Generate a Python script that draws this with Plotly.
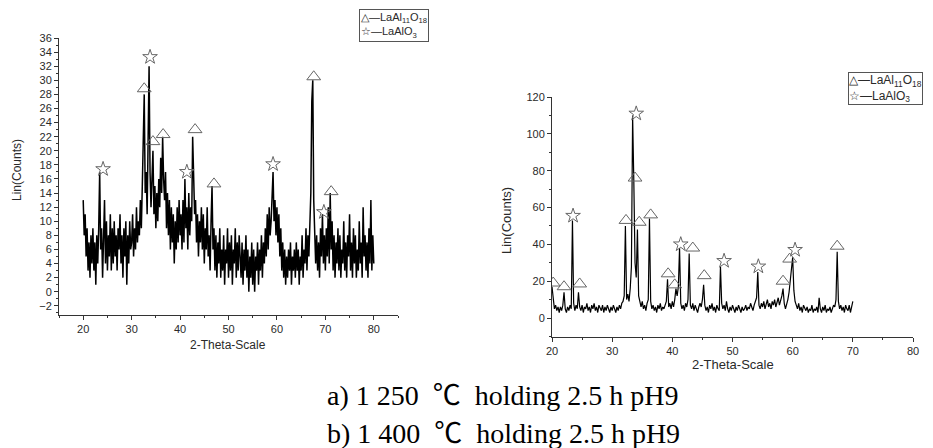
import plotly.graph_objects as go

# scan a) 1250 C, 20-80 deg, 0.2 deg step
scan_a_start = 20.0
scan_a_step = 0.2
counts_a_20 = [13, 8, 11, 5, 9, 3, 7, 2, 8, 4, 9, 3, 7, 1, 8, 4, 9, 17, 6, 9,
               2, 7, 13, 4, 10, 3, 8, 5, 11, 3, 9, 4, 10, 5, 8, 3, 9, 6, 11, 4,
               8, 2, 9, 5, 10, 1, 8, 4, 10, 6]
counts_a_30 = [7, 11, 5, 9, 6, 12, 7, 10, 8, 13, 9, 15, 24, 28, 14, 17, 11, 25, 32, 17,
               12, 16, 20, 11, 15, 9, 14, 10, 16, 12, 19, 14, 22, 16, 13, 17, 9, 14, 8, 13,
               6, 12, 7, 11, 4, 10, 6, 12, 7, 13]
counts_a_40 = [8, 11, 6, 13, 7, 16, 9, 12, 6, 14, 8, 12, 10, 22, 16, 11, 13, 7, 11, 5,
               10, 7, 12, 6, 11, 4, 9, 6, 12, 5, 8, 3, 10, 15, 6, 9, 3, 8, 2, 7,
               4, 9, 2, 6, 3, 8, 1, 6, 4, 9]
counts_a_50 = [2, 7, 3, 8, 1, 6, 4, 9, 2, 7, 3, 8, 5, 2, 7, 1, 6, 3, 8, 2,
               6, 0, 5, 2, 7, 1, 6, 0, 5, 3, 7, 1, 6, 3, 8, 2, 7, 4, 9, 5,
               11, 6, 12, 8, 10, 14, 17, 10, 13, 8]
counts_a_60 = [12, 7, 11, 5, 9, 3, 7, 2, 6, 1, 5, 2, 6, 3, 7, 1, 5, 3, 6, 2,
               7, 3, 6, 1, 5, 3, 8, 2, 6, 4, 9, 3, 8, 5, 11, 14, 27, 30, 13, 9,
               4, 8, 3, 7, 2, 9, 5, 11, 4, 8]
counts_a_70 = [3, 9, 5, 12, 4, 14, 6, 10, 3, 8, 2, 7, 4, 9, 3, 8, 2, 6, 4, 10,
               3, 7, 2, 8, 5, 11, 3, 7, 2, 9, 4, 8, 2, 6, 3, 10, 4, 7, 2, 12,
               5, 8, 3, 7, 2, 9, 4, 13, 3, 8, 4]
counts_a = counts_a_20 + counts_a_30 + counts_a_40 + counts_a_50 + counts_a_60 + counts_a_70

tri_a_x = [32.6, 34.4, 36.5, 43.1, 47.0, 67.6, 71.2]
tri_a_y = [28.8, 21.3, 22.3, 23.0, 15.3, 30.5, 14.2]
star_a_x = [24.1, 33.8, 41.4, 59.2, 69.7]
star_a_y = [17.4, 33.3, 17.0, 18.1, 11.3]

# scan b) 1400 C, 20-70 deg, 0.2 deg step
scan_b_start = 20.0
scan_b_step = 0.2
counts_b_20 = [17, 9, 5, 7, 4, 6, 3, 6, 4, 7, 14, 5, 3, 6, 4, 7, 5, 53, 8, 4,
               7, 5, 14, 6, 4, 7, 3, 6, 5, 8, 4, 6, 3, 7, 5, 8, 4, 6, 3, 7,
               5, 4, 7, 3, 6, 4, 7, 5, 3, 6]
counts_b_30 = [4, 7, 5, 3, 6, 4, 7, 5, 8, 9, 12, 50, 10, 13, 9, 16, 28, 110, 74, 30,
               22, 48, 12, 8, 6, 9, 5, 7, 4, 8, 10, 54, 9, 5, 7, 4, 6, 3, 7, 5,
               8, 4, 6, 5, 7, 9, 21, 6, 8, 5]
counts_b_40 = [9, 6, 10, 16, 12, 17, 38, 8, 5, 7, 4, 8, 6, 10, 35, 7, 5, 8, 4, 7,
               5, 3, 6, 8, 6, 10, 18, 7, 4, 6, 3, 7, 5, 8, 4, 6, 3, 7, 5, 4,
               28, 8, 5, 7, 4, 9, 5, 3, 6, 4]
counts_b_50 = [7, 5, 3, 6, 4, 7, 5, 3, 6, 4, 5, 7, 4, 6, 5, 8, 6, 4, 7, 9,
               11, 25, 7, 5, 8, 6, 9, 5, 7, 10, 6, 8, 5, 9, 7, 10, 6, 8, 11, 7,
               9, 12, 16, 8, 5, 7, 10, 14, 20, 29]
counts_b_60 = [33, 15, 9, 7, 5, 8, 4, 6, 3, 7, 5, 4, 6, 3, 5, 4, 7, 3, 5, 4,
               6, 3, 11, 5, 3, 6, 4, 7, 3, 5, 4, 6, 3, 5, 7, 6, 10, 36, 9, 5,
               7, 4, 6, 3, 7, 5, 4, 7, 3, 6, 9]
counts_b = counts_b_20 + counts_b_30 + counts_b_40 + counts_b_50 + counts_b_60

tri_b_x = [20.2, 22.0, 24.6, 32.3, 33.8, 34.5, 36.4, 39.3, 40.4, 43.4, 45.3, 58.4, 59.5, 67.4]
tri_b_y = [19, 17, 18.5, 53, 76, 52, 56, 24, 18, 38, 23, 20, 32, 39]
star_b_x = [23.5, 34.0, 41.4, 48.6, 54.3, 60.4]
star_b_y = [55.5, 111, 40, 31, 28, 37]

W, H = 933, 448
AXIS_COLOR = '#333333'
TEXT_COLOR = '#2a2a2a'
MARK_COLOR = '#666666'


def px(x, y):
    return x / W, 1 - y / H


fig = go.Figure()

fig.add_trace(go.Scatter(y=counts_a, x0=scan_a_start, dx=scan_a_step, mode='lines',
                         line=dict(color='#000000', width=1.5), xaxis='x', yaxis='y'))
fig.add_trace(go.Scatter(x=tri_a_x, y=tri_a_y, mode='markers', xaxis='x', yaxis='y',
                         marker=dict(symbol='triangle-up-open', size=12, color=MARK_COLOR,
                                     line=dict(width=1))))
fig.add_trace(go.Scatter(x=star_a_x, y=star_a_y, mode='markers', xaxis='x', yaxis='y',
                         marker=dict(symbol='star-open', size=11, color=MARK_COLOR,
                                     line=dict(width=1))))

fig.add_trace(go.Scatter(y=counts_b, x0=scan_b_start, dx=scan_b_step, mode='lines',
                         line=dict(color='#000000', width=1.2), xaxis='x2', yaxis='y2'))
fig.add_trace(go.Scatter(x=tri_b_x, y=tri_b_y, mode='markers', xaxis='x2', yaxis='y2',
                         marker=dict(symbol='triangle-up-open', size=12, color=MARK_COLOR,
                                     line=dict(width=1))))
fig.add_trace(go.Scatter(x=star_b_x, y=star_b_y, mode='markers', xaxis='x2', yaxis='y2',
                         marker=dict(symbol='star-open', size=11, color=MARK_COLOR,
                                     line=dict(width=1))))

axis_common = dict(showline=True, linecolor=AXIS_COLOR, linewidth=1, showgrid=False,
                   zeroline=False, ticks='outside', ticklen=4, tickcolor=AXIS_COLOR,
                   automargin=False,
                   tickfont=dict(family='Liberation Sans', size=11, color=TEXT_COLOR))
minor_common = dict(ticks='outside', ticklen=2, tickcolor=AXIS_COLOR)

fig.update_layout(
    width=W, height=H,
    margin=dict(l=0, r=0, t=0, b=0, pad=0),
    paper_bgcolor='white', plot_bgcolor='white',
    showlegend=False,
    xaxis=dict(domain=[59 / W, 398 / W], range=[15, 85], anchor='y',
               tick0=20, dtick=10, minor=dict(dtick=5, **minor_common), **axis_common),
    yaxis=dict(domain=[1 - 315 / H, 1 - 38 / H], range=[-3.3, 36], anchor='x',
               tick0=0, dtick=2, minor=dict(dtick=1, **minor_common), **axis_common),
    xaxis2=dict(domain=[552 / W, 913 / W], range=[20, 80], anchor='y2',
                tick0=20, dtick=10, minor=dict(dtick=5, **minor_common), **axis_common),
    yaxis2=dict(domain=[1 - 337 / H, 1 - 97 / H], range=[-10.3, 120], anchor='x2',
                tick0=0, dtick=20, minor=dict(dtick=10, **minor_common), **axis_common),
)

annotations = []


def add_text(text, x, y, font, xanchor='center', yanchor='middle', angle=0, **kw):
    ax, ay = px(x, y)
    annotations.append(dict(text=text, x=ax, y=ay, xref='paper', yref='paper',
                            xanchor=xanchor, yanchor=yanchor, showarrow=False,
                            textangle=angle, font=font, **kw))


label_font_a = dict(family='Liberation Sans', size=12, color=TEXT_COLOR)
label_font_b = dict(family='Liberation Sans', size=13, color=TEXT_COLOR)
add_text('2-Theta-Scale', 228, 345, label_font_a)
add_text('Lin(Counts)', 17, 170, label_font_a, angle=-90)
add_text('2-Theta-Scale', 733, 364, label_font_b)
add_text('Lin(Counts)', 506, 220, label_font_b, angle=-90)

legend_text = '△—LaAl<sub>11</sub>O<sub>18</sub><br>☆—LaAlO<sub>3</sub>'
add_text(legend_text, 359, 9, dict(family='Liberation Sans', size=11, color=TEXT_COLOR),
         xanchor='left', yanchor='top', align='left', bordercolor='#555555', borderwidth=1,
         borderpad=1, bgcolor='white')
add_text(legend_text, 848, 72, dict(family='Liberation Sans', size=12, color=TEXT_COLOR),
         xanchor='left', yanchor='top', align='left', bordercolor='#555555', borderwidth=1,
         borderpad=0, bgcolor='white')

caption_font = dict(family='Liberation Serif, Noto Sans CJK SC', size=28, color='black')
gap = '\u00a0\u00a0'
add_text('a) 1 250' + gap + '℃' + gap + 'holding 2.5 h pH9', 325, 395, caption_font, xanchor='left')
add_text('b) 1 400' + gap + '℃' + gap + 'holding 2.5 h pH9', 325, 433, caption_font, xanchor='left')

fig.update_layout(annotations=annotations)

fig.write_html("out.html", config={'displayModeBar': False},
               post_script="document.body.style.margin = '0';")
